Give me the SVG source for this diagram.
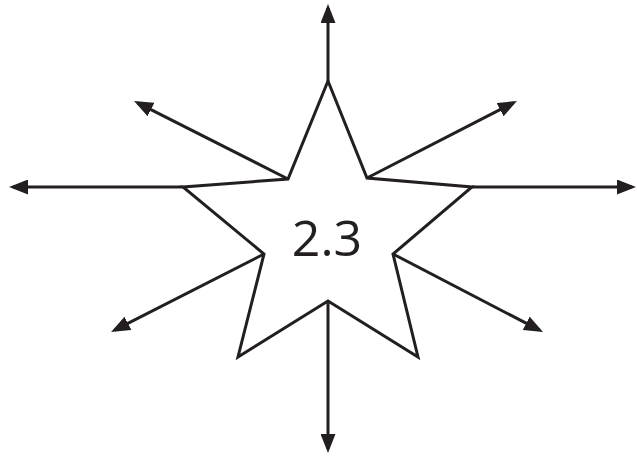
<svg xmlns="http://www.w3.org/2000/svg" width="637" height="457" viewBox="0 0 637 457">
  <style>
    .edge { stroke: #231f20; stroke-width: 3; fill: none; marker-end: url(#arrow); }
    .star { stroke: #231f20; stroke-width: 3; fill: #ffffff; stroke-linejoin: miter; }
    .label { font-family: "Open Sans", "Liberation Sans", sans-serif; font-size: 50px; fill: #231f20; text-anchor: middle; }
  </style>
  <defs>
    <marker id="arrow" viewBox="0 0 19 15" markerWidth="19" markerHeight="15" refX="15" refY="7.5" orient="auto" markerUnits="userSpaceOnUse">
      <path d="M0,0 L19,7.5 L0,15 z" fill="#231f20"/>
    </marker>
  </defs>
  <rect width="637" height="457" fill="#ffffff"/>
  <g id="connectors">
    <line class="edge" x1="328" y1="81" x2="328" y2="8"/>
    <line class="edge" x1="288" y1="179" x2="137.6" y2="102.8"/>
    <line class="edge" x1="367" y1="178" x2="513.4" y2="102.8"/>
    <line class="edge" x1="183" y1="187" x2="13" y2="187"/>
    <line class="edge" x1="472" y1="187" x2="632" y2="187"/>
    <line class="edge" x1="264" y1="254" x2="114.6" y2="330.2"/>
    <line class="edge" x1="393" y1="254" x2="539.5" y2="330.2"/>
    <line class="edge" x1="328" y1="301" x2="328" y2="449"/>
  </g>
  <g id="star">
    <polygon class="star" points="328,81 367,178 472,187 393,254 418,357 328,301 238,357 264,254 183,187 288,179"/>
    <text class="label" x="327" y="256">2.3</text>
  </g>
</svg>
